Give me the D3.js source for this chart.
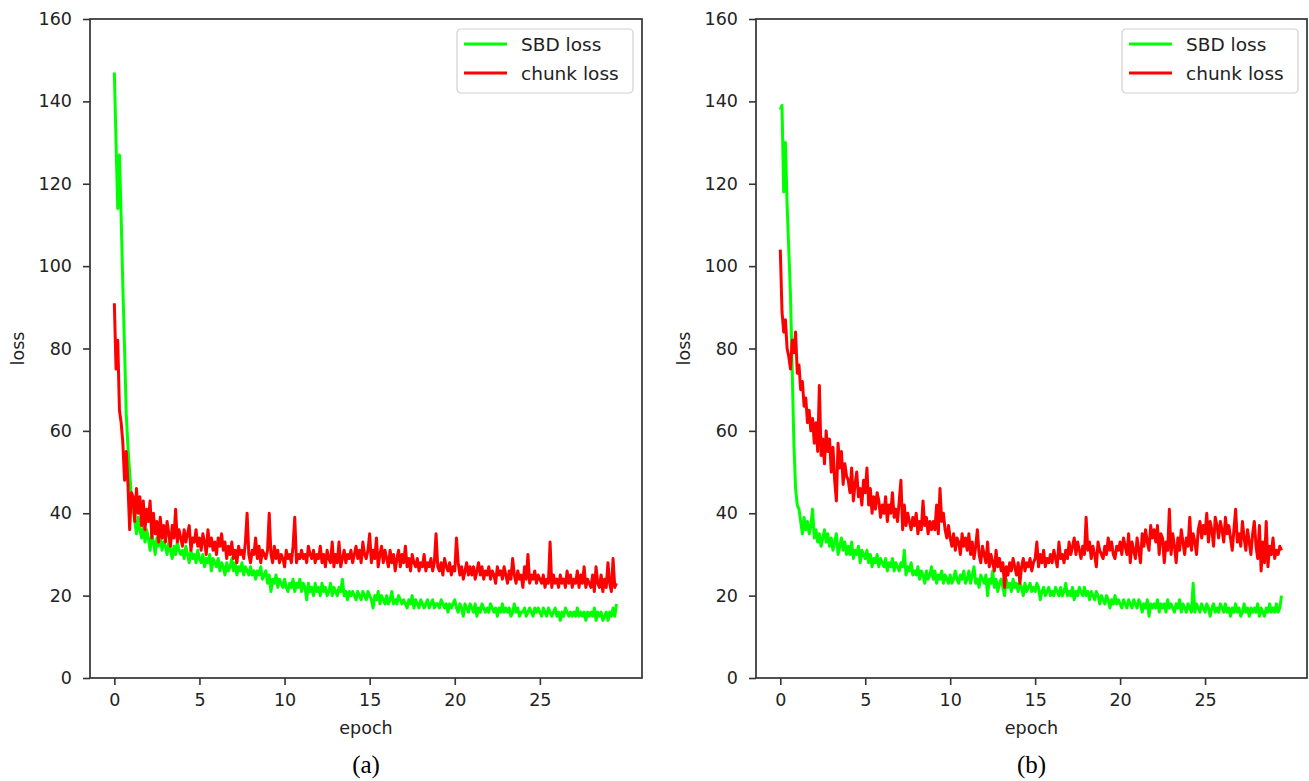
<!DOCTYPE html>
<html>
<head>
<meta charset="utf-8">
<title>SBD / chunk loss</title>
<script src="https://cdn.jsdelivr.net/npm/d3@7"></script>
<style>
  body { margin: 0; background: #fff; }
  .tick text { font-family: "DejaVu Sans", sans-serif; font-size: 17.5px; fill: #222; }
  .tick line { stroke: #333; stroke-width: 1.6; }
  .label { font-family: "DejaVu Sans", sans-serif; font-size: 17.5px; fill: #222; }
  .caption { font-family: "Liberation Serif", "Times New Roman", serif; font-size: 25px; fill: #000; }
  .legend text { font-family: "DejaVu Sans", sans-serif; font-size: 18.5px; fill: #222; }
</style>
</head>
<body>
<script>
// one value every 0.1 epoch, one row per epoch
var epochStep = 0.1;

var sbdLossA = [
  147,130,114,127,112,95,80,64,56,50,
  44,41,38,35,39,36,34,37,33,36,
  34,31,35,33,30,34,32,35,31,33,
  32,30,33,31,29,32,30,33,31,30,
  31,29,32,30,28,31,29,30,28,31,
  29,28,30,27,29,28,30,26,29,28,
  27,29,26,28,27,25,28,26,27,29,
  26,28,25,27,26,28,25,27,26,25,
  27,25,26,24,26,25,27,24,25,26,
  23,25,21,24,23,25,22,24,23,22,
  24,22,21,23,22,24,21,23,22,24,
  21,23,22,19,23,21,22,20,23,21,
  22,20,23,21,22,20,21,23,20,22,
  21,20,22,21,24,20,21,19,21,20,
  21,20,19,21,20,19,21,20,19,21,
  20,19,17,20,19,21,18,20,19,18,
  20,18,19,21,18,19,18,20,19,18,
  19,18,17,19,18,20,17,19,18,17,
  19,18,17,18,19,17,18,19,17,18,
  18,17,19,18,17,18,16,18,17,18,
  19,17,16,18,17,15,18,17,16,18,
  17,16,18,15,17,16,18,17,16,17,
  16,18,17,16,17,15,17,16,18,16,
  17,16,17,15,16,18,16,17,15,16,
  16,17,15,16,17,16,15,17,16,17,
  16,15,17,16,15,17,16,15,16,17,
  15,16,14,16,15,17,16,15,16,15,
  16,15,17,15,16,15,16,14,16,15,
  16,15,17,14,16,15,16,14,15,16,
  14,16,15,17,15,18
];

var chunkLossA = [
  91,75,82,65,62,57,48,55,47,36,
  45,44,38,46,40,44,37,43,36,41,
  38,43,34,40,35,38,33,39,34,37,
  33,38,35,32,37,34,41,33,36,34,
  32,36,33,35,37,31,34,33,36,32,
  34,31,35,33,30,36,32,34,31,33,
  30,34,32,35,31,33,29,32,30,33,
  29,31,28,32,30,31,29,33,40,30,
  28,31,30,34,29,32,28,31,30,29,
  31,40,30,28,32,29,31,28,30,29,
  27,31,29,30,28,32,39,28,30,29,
  31,29,30,28,32,30,29,31,28,30,
  29,32,28,30,27,31,29,28,33,27,
  30,28,33,27,29,31,28,30,29,31,
  28,30,32,29,31,28,33,30,29,31,
  35,28,31,29,34,27,30,32,28,31,
  29,27,31,28,30,26,29,31,27,30,
  28,32,27,29,26,30,28,27,29,26,
  28,27,30,26,28,27,29,26,28,35,
  27,26,28,25,29,27,26,28,25,27,
  26,34,28,25,27,24,26,28,25,27,
  25,27,24,26,28,25,27,24,26,25,
  27,24,26,25,23,27,25,26,24,27,
  25,23,26,24,29,25,23,26,24,25,
  22,27,24,30,23,25,24,26,23,25,
  24,23,25,22,24,23,33,22,25,23,
  24,22,25,23,24,22,26,23,25,22,
  24,23,26,22,25,23,27,22,24,23,
  22,25,21,27,23,22,25,21,24,22,
  28,23,21,29,22,23
];

var sbdLossB = [
  138,139,118,130,115,104,93,75,57,46,
  42,41,38,35,39,36,38,35,37,41,
  34,36,33,35,32,34,36,33,35,32,
  34,31,33,35,30,32,34,31,33,30,
  32,30,33,29,31,30,32,28,31,30,
  29,31,28,30,27,29,28,30,27,29,
  28,27,29,26,28,27,29,26,28,27,
  26,28,27,31,25,27,26,28,25,26,
  25,27,24,26,25,23,26,24,25,27,
  24,26,23,25,24,26,23,25,24,23,
  25,23,24,26,24,23,25,24,26,23,
  24,26,23,25,27,23,24,22,25,24,
  23,25,20,24,23,26,22,24,21,23,
  24,22,20,24,22,23,21,24,22,23,
  21,23,22,20,23,21,22,23,21,22,
  21,23,22,19,21,22,20,21,22,20,
  21,20,22,21,20,22,20,21,23,20,
  21,20,22,19,21,20,22,21,20,22,
  20,21,19,21,20,19,21,20,18,20,
  19,18,20,19,17,19,18,20,18,19,
  18,17,19,18,17,19,18,17,19,18,
  17,19,18,16,18,17,19,15,18,17,
  18,17,19,16,18,17,18,16,19,17,
  18,17,16,18,17,19,16,18,17,16,
  18,17,16,23,16,18,17,16,18,17,
  16,18,17,15,17,18,16,17,16,18,
  17,16,18,16,17,15,17,16,18,16,
  17,15,16,18,16,17,15,17,16,17,
  16,18,15,17,16,15,17,16,18,16,
  17,16,18,16,17,20
];

var chunkLossB = [
  104,89,84,87,80,78,75,82,79,84,
  74,76,70,72,66,68,62,65,60,63,
  57,62,55,71,54,58,52,60,55,58,
  50,56,48,43,57,51,55,47,52,49,
  48,45,51,43,47,50,44,46,42,48,
  45,51,42,46,40,44,41,45,43,39,
  42,40,44,38,42,40,45,39,41,38,
  43,48,36,42,37,40,38,36,39,37,
  40,35,38,36,43,37,39,35,38,36,
  38,36,42,35,46,38,40,36,34,37,
  34,32,35,31,34,33,30,35,32,34,
  31,35,30,33,29,32,36,30,28,32,
  30,28,33,27,30,28,26,31,27,29,
  26,28,22,27,25,28,26,29,27,25,
  28,23,27,29,26,28,27,29,26,28,
  29,33,27,30,28,31,27,29,28,30,
  28,31,29,27,33,29,30,28,31,29,
  33,30,32,34,30,33,31,29,32,30,
  39,31,33,29,32,30,27,33,31,30,
  29,32,30,34,31,33,30,29,32,31,
  33,30,34,32,30,35,28,33,31,29,
  34,31,28,35,32,36,33,31,37,34,
  36,33,37,30,35,34,28,33,31,41,
  30,35,32,28,34,31,36,33,30,34,
  32,39,31,35,33,30,36,38,34,37,
  35,40,33,38,36,32,39,37,34,38,
  36,33,39,35,37,34,31,36,41,33,
  35,32,38,34,31,36,33,30,35,38,
  32,29,37,26,33,28,38,27,32,30,
  34,29,31,30,32,31
];

var xTicks = [0, 5, 10, 15, 20, 25];
var yTicks = [0, 20, 40, 60, 80, 100, 120, 140, 160];
var seriesNames = ["SBD loss", "chunk loss"];
var seriesColors = ["#00ff00", "#ff0000"];

var panels = [
  {left: 90, right: 642, caption: "(a)", series: [sbdLossA, chunkLossA]},
  {left: 756, right: 1307, caption: "(b)", series: [sbdLossB, chunkLossB]}
];
var plotTop = 19, plotBottom = 678;

var svg = d3.select("body").append("svg")
  .attr("width", 1309)
  .attr("height", 781);

svg.append("rect").attr("width", 1309).attr("height", 781).attr("fill", "#fff");

panels.forEach(function(p) {
  var x = d3.scaleLinear().domain([-1.43, 31.0]).range([p.left, p.right]);
  var y = d3.scaleLinear().domain([0, 160]).range([plotBottom, plotTop]);

  var g = svg.append("g");

  var line = d3.line()
    .x(function(d, i) { return x(i * epochStep); })
    .y(function(d) { return y(d); });

  p.series.forEach(function(s, k) {
    g.append("path")
      .datum(s)
      .attr("fill", "none")
      .attr("stroke", seriesColors[k])
      .attr("stroke-width", 3)
      .attr("stroke-linejoin", "round")
      .attr("d", line);
  });

  // frame
  g.append("rect")
    .attr("x", p.left).attr("y", plotTop)
    .attr("width", p.right - p.left).attr("height", plotBottom - plotTop)
    .attr("fill", "none").attr("stroke", "#333").attr("stroke-width", 1.7);

  var xAxis = d3.axisBottom(x).tickValues(xTicks).tickSize(7).tickPadding(9);
  var yAxis = d3.axisLeft(y).tickValues(yTicks).tickSize(7).tickPadding(11);

  g.append("g")
    .attr("transform", "translate(0," + plotBottom + ")")
    .call(xAxis)
    .call(function(a) { a.select(".domain").remove(); });
  g.append("g")
    .attr("transform", "translate(" + p.left + ",0)")
    .call(yAxis)
    .call(function(a) { a.select(".domain").remove(); });

  g.append("text")
    .attr("class", "label")
    .attr("text-anchor", "middle")
    .attr("transform", "translate(" + (p.left - 66) + "," + ((plotTop + plotBottom) / 2) + ") rotate(-90)")
    .text("loss");

  g.append("text")
    .attr("class", "label")
    .attr("text-anchor", "middle")
    .attr("x", (p.left + p.right) / 2)
    .attr("y", 734)
    .text("epoch");

  g.append("text")
    .attr("class", "caption")
    .attr("text-anchor", "middle")
    .attr("x", (p.left + p.right) / 2)
    .attr("y", 773)
    .text(p.caption);

  // legend
  var lg = g.append("g").attr("class", "legend")
    .attr("transform", "translate(" + (p.right - 185) + ",29)");
  lg.append("rect")
    .attr("width", 176).attr("height", 64)
    .attr("rx", 4)
    .attr("fill", "#fff").attr("fill-opacity", 0.8)
    .attr("stroke", "#d0d0d0").attr("stroke-width", 1.2);
  seriesNames.forEach(function(name, k) {
    var yy = 15 + k * 29;
    lg.append("line")
      .attr("x1", 7).attr("x2", 50)
      .attr("y1", yy).attr("y2", yy)
      .attr("stroke", seriesColors[k]).attr("stroke-width", 3);
    lg.append("text")
      .attr("x", 64).attr("y", yy + 7)
      .text(name);
  });
});
</script>
</body>
</html>
